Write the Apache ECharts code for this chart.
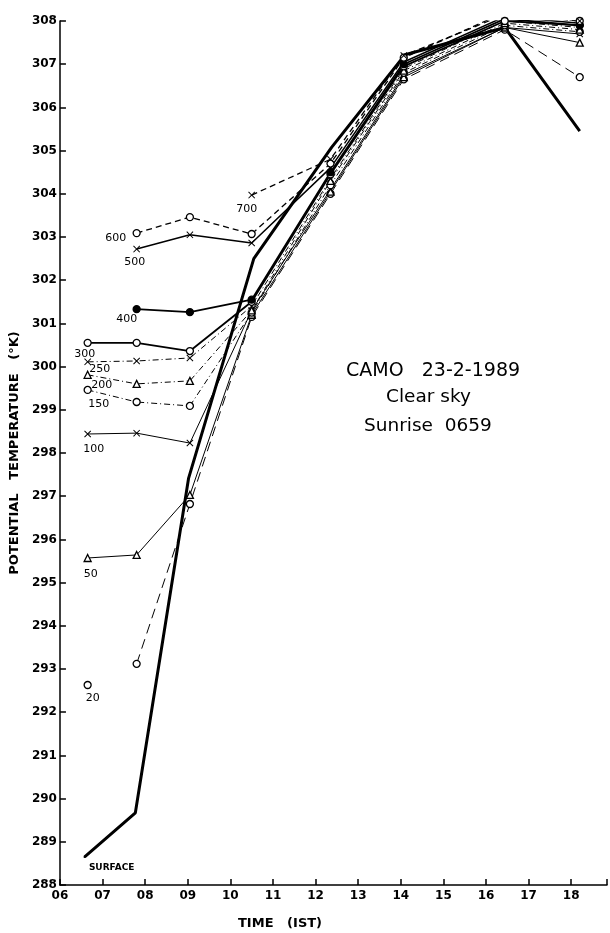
<!DOCTYPE html>
<html lang="en">
<head>
    <meta charset="utf-8">
    <title>CAMO 23-2-1989 - potential temperature</title>
    <script src="https://cdn.jsdelivr.net/npm/echarts@6/dist/echarts.min.js"></script>
    <style>
        html, body { margin: 0; padding: 0; background: #fff; }
        #chart { width: 610px; height: 933px; }
    </style>
</head>
<body>
    <div id="chart"></div>
    <script>
        // -- data (time in hours IST, theta in K)
        var obsTime     = [6.65, 7.8, 9.05, 10.5, 12.35, 14.07, 16.44, 18.2];
        var surfaceTime = [6.58, 7.77, 9.02, 10.55, 12.38, 14.1, 16.44, 18.2];

        var thetaSurface = [288.65, 289.67, 297.42, 302.5, 305.08, 307.22, 307.85, 305.45];
        var theta20  = [292.63, 293.12, 296.82, 301.15, 304.0, 306.65, 307.8, 306.7];
        var theta50  = [295.57, 295.64, 297.03, 301.2, 304.05, 306.7, 307.85, 307.5];
        var theta100 = [298.44, 298.46, 298.23, 301.3, 304.1, 306.75, 307.85, 307.7];
        var theta150 = [299.46, 299.18, 299.09, 301.25, 304.2, 306.8, 307.9, 307.75];
        var theta200 = [299.81, 299.6, 299.67, 301.3, 304.3, 306.85, 307.95, 307.8];
        var theta250 = [300.11, 300.13, 300.2, 301.4, 304.35, 306.9, 308.0, 307.85];
        var theta300 = [300.55, 300.55, 300.36, 301.5, 304.45, 306.95, 308.0, 307.9];
        var theta400 = [null, 301.33, 301.26, 301.55, 304.5, 307.0, 308.05, 307.9];
        var theta500 = [null, 302.72, 303.05, 302.86, 304.6, 307.05, 308.1, 307.95];
        var theta600 = [null, 303.09, 303.46, 303.07, 304.7, 307.15, 308.2, 308.0];
        var theta700 = [null, null, null, 303.97, 304.8, 307.2, 308.15, 308.0];

        var levelNames = ['SURFACE', '20', '50', '100', '150', '200', '250', '300', '400', '500', '600', '700'];
        var levelData  = [thetaSurface, theta20, theta50, theta100, theta150, theta200,
                          theta250, theta300, theta400, theta500, theta600, theta700];

        var xTicks = ['06', '07', '08', '09', '10', '11', '12', '13', '14', '15', '16', '17', '18'];
        var notes  = ['CAMO   23-2-1989', 'Clear sky', 'Sunrise  0659'];

        // -- drawing styles
        var crossPath = 'path://M0,1L1,0L5,4L9,0L10,1L6,5L10,9L9,10L5,6L1,10L0,9L4,5Z';
        var dashDot = [6, 3, 1, 3];
        var styles = {
            'SURFACE': { w: 3,   type: 'solid', sym: 'none',     fill: '#000', off: [27, 11], fs: 9, bold: true },
            '20':  { w: 1,   type: [10, 6],  sym: 'circle',   fill: '#fff', off: [5, 13],  gapFirst: true },
            '50':  { w: 1,   type: 'solid',  sym: 'triangle', fill: '#fff', off: [3, 16] },
            '100': { w: 1,   type: 'solid',  sym: crossPath,  fill: '#000', off: [6, 15] },
            '150': { w: 1,   type: dashDot,  sym: 'circle',   fill: '#fff', off: [11, 14] },
            '200': { w: 1,   type: dashDot,  sym: 'triangle', fill: '#fff', off: [14, 10] },
            '250': { w: 1,   type: dashDot,  sym: crossPath,  fill: '#000', off: [12, 7] },
            '300': { w: 1.8, type: 'solid',  sym: 'circle',   fill: '#fff', off: [-3, 11] },
            '400': { w: 1.8, type: 'solid',  sym: 'circle',   fill: '#000', off: [-10, 10] },
            '500': { w: 1.5, type: 'solid',  sym: crossPath,  fill: '#000', off: [-2, 13] },
            '600': { w: 1.3, type: [6, 4],   sym: 'circle',   fill: '#fff', off: [-21, 5] },
            '700': { w: 1.3, type: [6, 4],   sym: crossPath,  fill: '#000', off: [-5, 14] }
        };

        var series = levelNames.map(function (name, k) {
            var st = styles[name];
            var times = name === 'SURFACE' ? surfaceTime : obsTime;
            var pts = [];
            var first = true;
            levelData[k].forEach(function (v, i) {
                if (v === null) return;
                var item = { value: [times[i], v] };
                if (first) {
                    item.label = {
                        show: true,
                        formatter: name,
                        position: 'inside',
                        offset: st.off,
                        color: '#000',
                        fontSize: st.fs || 11,
                        fontWeight: st.bold ? 'bold' : 'normal',
                        fontFamily: 'DejaVu Sans'
                    };
                    if (name === 'SURFACE') item.symbol = 'circle', item.symbolSize = 1;
                }
                pts.push(item);
                // 20 m: first sounding stands alone in the figure
                if (first && st.gapFirst) pts.push({ value: ['-', '-'] });
                first = false;
            });
            return {
                name: name,
                type: 'line',
                data: pts,
                symbol: st.sym,
                symbolSize: 7,
                showSymbol: true,
                showAllSymbol: true,
                connectNulls: false,
                lineStyle: { color: '#000', width: st.w, type: st.type },
                itemStyle: { color: st.fill, borderColor: '#000', borderWidth: st.sym === crossPath ? 0 : 1.3 },
                z: name === 'SURFACE' ? 3 : 4
            };
        });

        var chart = echarts.init(document.getElementById('chart'), null, { renderer: 'canvas' });
        chart.setOption({
            animation: false,
            backgroundColor: '#fff',
            grid: { left: 59, right: 0, top: 21, bottom: 48 },
            xAxis: {
                type: 'value',
                min: 6,
                max: 18.84,
                interval: 1,
                splitLine: { show: false },
                axisLine: { lineStyle: { color: '#000', width: 1.5 } },
                axisTick: { inside: true, length: 6, lineStyle: { color: '#000', width: 1.5 } },
                axisLabel: {
                    color: '#000', fontSize: 12, fontWeight: 'bold', fontFamily: 'DejaVu Sans', margin: 5,
                    formatter: function (v) {
                        var i = v - 6;
                        return (Math.abs(i - Math.round(i)) < 1e-6 && xTicks[Math.round(i)]) ? xTicks[Math.round(i)] : '';
                    }
                }
            },
            yAxis: {
                type: 'value',
                min: 288,
                max: 308,
                interval: 1,
                name: 'POTENTIAL   TEMPERATURE   (°K)',
                nameLocation: 'middle',
                nameGap: 37,
                nameTextStyle: { color: '#000', fontSize: 13, fontWeight: 'bold', fontFamily: 'DejaVu Sans' },
                splitLine: { show: false },
                axisLine: { lineStyle: { color: '#000', width: 1.5 } },
                axisTick: { inside: true, length: 6, lineStyle: { color: '#000', width: 1.5 } },
                axisLabel: { color: '#000', fontSize: 12, fontWeight: 'bold', fontFamily: 'DejaVu Sans', margin: 3 }
            },
            graphic: [
                { type: 'text', left: 238, top: 917,
                  style: { text: 'TIME   (IST)', fill: '#000', font: 'bold 13px "DejaVu Sans"' } },
                { type: 'text', left: 346, top: 362,
                  style: { text: notes[0], fill: '#000', font: '19px "DejaVu Sans"' } },
                { type: 'text', left: 386, top: 388,
                  style: { text: notes[1], fill: '#000', font: '18.5px "DejaVu Sans"' } },
                { type: 'text', left: 364, top: 417,
                  style: { text: notes[2], fill: '#000', font: '18.5px "DejaVu Sans"' } }
            ],
            series: series
        });
    </script>
</body>
</html>
